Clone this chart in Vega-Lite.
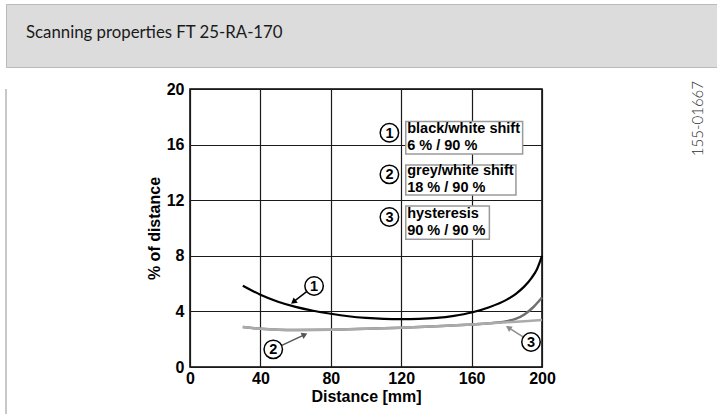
{
  "$schema": "https://vega.github.io/schema/vega-lite/v6.json",
  "background": "white",
  "padding": {"left": 5, "top": 3, "right": 0, "bottom": 0},
  "spacing": 12,
  "config": {"view": {"stroke": null}, "font": "Liberation Sans"},
  "datasets": {
    "curves": [
      {"s": "bw", "x": 30, "y": 5.85}, {"s": "bw", "x": 40, "y": 5.2}, {"s": "bw", "x": 50, "y": 4.7},
      {"s": "bw", "x": 60, "y": 4.33}, {"s": "bw", "x": 70, "y": 4.05}, {"s": "bw", "x": 80, "y": 3.83},
      {"s": "bw", "x": 90, "y": 3.65}, {"s": "bw", "x": 100, "y": 3.53}, {"s": "bw", "x": 110, "y": 3.46},
      {"s": "bw", "x": 120, "y": 3.44}, {"s": "bw", "x": 130, "y": 3.46}, {"s": "bw", "x": 140, "y": 3.53},
      {"s": "bw", "x": 150, "y": 3.68}, {"s": "bw", "x": 160, "y": 3.92}, {"s": "bw", "x": 170, "y": 4.3},
      {"s": "bw", "x": 180, "y": 4.85}, {"s": "bw", "x": 185, "y": 5.25}, {"s": "bw", "x": 190, "y": 5.8},
      {"s": "bw", "x": 194, "y": 6.4}, {"s": "bw", "x": 197, "y": 7.0}, {"s": "bw", "x": 200, "y": 8.0},
      {"s": "gw", "x": 30, "y": 2.88}, {"s": "gw", "x": 40, "y": 2.75}, {"s": "gw", "x": 50, "y": 2.68},
      {"s": "gw", "x": 60, "y": 2.66}, {"s": "gw", "x": 80, "y": 2.68}, {"s": "gw", "x": 100, "y": 2.75},
      {"s": "gw", "x": 120, "y": 2.83}, {"s": "gw", "x": 140, "y": 2.93}, {"s": "gw", "x": 160, "y": 3.06},
      {"s": "gw", "x": 170, "y": 3.14}, {"s": "gw", "x": 175, "y": 3.2}, {"s": "gw", "x": 180, "y": 3.3},
      {"s": "gw", "x": 185, "y": 3.46}, {"s": "gw", "x": 190, "y": 3.78}, {"s": "gw", "x": 195, "y": 4.3},
      {"s": "gw", "x": 200, "y": 5.0},
      {"s": "hys", "x": 30, "y": 2.88}, {"s": "hys", "x": 40, "y": 2.75}, {"s": "hys", "x": 50, "y": 2.68},
      {"s": "hys", "x": 60, "y": 2.66}, {"s": "hys", "x": 80, "y": 2.68}, {"s": "hys", "x": 100, "y": 2.75},
      {"s": "hys", "x": 120, "y": 2.83}, {"s": "hys", "x": 140, "y": 2.93}, {"s": "hys", "x": 160, "y": 3.06},
      {"s": "hys", "x": 180, "y": 3.22}, {"s": "hys", "x": 200, "y": 3.38}
    ],
    "arrows": [
      {"n": "1", "x": 70.5, "y": 5.83, "hx": 58.75, "hy": 4.68},
      {"n": "2", "x": 47.3, "y": 1.27, "hx": 65.16, "hy": 2.33},
      {"n": "3", "x": 193.75, "y": 1.8, "hx": 180.94, "hy": 2.83}
    ],
    "badges": [
      {"n": "1", "x": 70.5, "y": 5.83},
      {"n": "2", "x": 47.3, "y": 1.27},
      {"n": "3", "x": 193.75, "y": 1.8},
      {"n": "1", "x": 113.3, "y": 16.85},
      {"n": "2", "x": 113.3, "y": 13.86},
      {"n": "3", "x": 113.3, "y": 10.79}
    ],
    "legend": [
      {"label": "black/white shift\n6 % / 90 %", "x": 122.6, "x2": 189.0, "y": 15.32, "y2": 17.66, "tx": 123.4, "ty": 17.13},
      {"label": "grey/white shift\n18 % / 90 %", "x": 122.6, "x2": 185.2, "y": 12.37, "y2": 14.53, "tx": 123.4, "ty": 14.12},
      {"label": "hysteresis\n90 % / 90 %", "x": 122.6, "x2": 170.1, "y": 9.19, "y2": 11.58, "tx": 123.4, "ty": 11.01}
    ]
  },
  "vconcat": [
    {
      "width": 712,
      "height": 63,
      "view": {"fill": "#dcdcdc", "stroke": "#bababa", "strokeWidth": 1},
      "title": {
        "text": "Scanning properties FT 25-RA-170",
        "orient": "top", "anchor": "start", "frame": "group",
        "offset": -51, "dx": 20, "baseline": "alphabetic",
        "font": "Lato", "fontSize": 16.8, "fontWeight": "normal", "color": "#1a1a1a"
      },
      "data": {"values": []},
      "mark": "point",
      "encoding": {}
    },
    {
      "spacing": 0,
      "hconcat": [
        {
          "width": 139,
          "height": 336,
          "data": {"values": [{}]},
          "mark": {"type": "rule", "color": "#c8c8c8", "strokeWidth": 2},
          "encoding": {"x": {"datum": 0, "type": "quantitative", "scale": {"domain": [0, 1]}, "axis": null}}
        },
        {
          "width": 352,
          "height": 278,
          "view": {"stroke": "black", "strokeWidth": 1.5},
          "title": {
            "text": "155-01667",
            "orient": "right", "angle": 270, "anchor": "start", "align": "right",
            "offset": 121,
            "font": "Lato", "fontSize": 15, "fontWeight": 300, "color": "#333333"
          },
          "layer": [
            {
              "data": {"name": "curves"},
              "transform": [{"filter": "datum.s === 'gw'"}],
              "mark": {"type": "line", "color": "#707070", "strokeWidth": 2.5, "interpolate": "monotone"},
              "encoding": {
                "x": {"field": "x", "type": "quantitative",
                  "scale": {"domain": [0, 200], "nice": false},
                  "axis": {"values": [0, 40, 80, 120, 160, 200], "grid": true, "gridColor": "#1a1a1a", "gridWidth": 1.2,
                    "ticks": false, "tickSize": 0, "domain": false, "labelFlush": false,
                    "labelFont": "Liberation Sans", "labelFontWeight": "bold", "labelFontSize": 16, "labelColor": "black", "labelPadding": 3,
                    "title": "Distance [mm]", "titleFont": "Liberation Sans", "titleFontWeight": "bold", "titleFontSize": 16, "titleColor": "black", "titlePadding": 2}},
                "y": {"field": "y", "type": "quantitative",
                  "scale": {"domain": [0, 20], "nice": false},
                  "axis": {"values": [0, 4, 8, 12, 16, 20], "grid": true, "gridColor": "#1a1a1a", "gridWidth": 1.2,
                    "ticks": false, "tickSize": 0, "domain": false, "labelFlush": false,
                    "labelFont": "Liberation Sans", "labelFontWeight": "bold", "labelFontSize": 16, "labelColor": "black", "labelPadding": 6,
                    "title": "% of distance", "titleFont": "Liberation Sans", "titleFontWeight": "bold", "titleFontSize": 16, "titleColor": "black", "titlePadding": 4}}
              }
            },
            {
              "data": {"name": "curves"},
              "transform": [{"filter": "datum.s === 'hys'"}],
              "mark": {"type": "line", "color": "#ababab", "strokeWidth": 2.5, "interpolate": "monotone"},
              "encoding": {"x": {"field": "x", "type": "quantitative"}, "y": {"field": "y", "type": "quantitative"}}
            },
            {
              "data": {"name": "curves"},
              "transform": [{"filter": "datum.s === 'bw'"}],
              "mark": {"type": "line", "color": "black", "strokeWidth": 2.2, "interpolate": "monotone"},
              "encoding": {"x": {"field": "x", "type": "quantitative"}, "y": {"field": "y", "type": "quantitative"}}
            },
            {
              "data": {"name": "arrows"},
              "mark": {"type": "rule", "strokeWidth": 1.5},
              "encoding": {
                "x": {"field": "x", "type": "quantitative"}, "y": {"field": "y", "type": "quantitative"},
                "x2": {"field": "hx"}, "y2": {"field": "hy"},
                "color": {"field": "n", "type": "nominal", "scale": {"domain": ["1", "2", "3"], "range": ["black", "#555555", "#8c8c8c"]}, "legend": null}
              }
            },
            {
              "data": {"name": "arrows"},
              "transform": [{"filter": "datum.n === '1'"}],
              "mark": {"type": "point", "shape": "triangle-up", "filled": true, "opacity": 1, "size": 45, "angle": 232.4, "color": "black"},
              "encoding": {"x": {"field": "hx", "type": "quantitative"}, "y": {"field": "hy", "type": "quantitative"}}
            },
            {
              "data": {"name": "arrows"},
              "transform": [{"filter": "datum.n === '2'"}],
              "mark": {"type": "point", "shape": "triangle-up", "filled": true, "opacity": 1, "size": 45, "angle": 64.9, "color": "#555555"},
              "encoding": {"x": {"field": "hx", "type": "quantitative"}, "y": {"field": "hy", "type": "quantitative"}}
            },
            {
              "data": {"name": "arrows"},
              "transform": [{"filter": "datum.n === '3'"}],
              "mark": {"type": "point", "shape": "triangle-up", "filled": true, "opacity": 1, "size": 45, "angle": 302.5, "color": "#8c8c8c"},
              "encoding": {"x": {"field": "hx", "type": "quantitative"}, "y": {"field": "hy", "type": "quantitative"}}
            },
            {
              "data": {"name": "badges"},
              "mark": {"type": "point", "shape": "circle", "filled": true, "fill": "white", "stroke": "black", "strokeWidth": 1.5, "opacity": 1, "size": 340},
              "encoding": {"x": {"field": "x", "type": "quantitative"}, "y": {"field": "y", "type": "quantitative"}}
            },
            {
              "data": {"name": "badges"},
              "mark": {"type": "text", "font": "Liberation Sans", "fontWeight": "bold", "fontSize": 14.5, "align": "center", "baseline": "middle", "dy": 1, "color": "black"},
              "encoding": {"x": {"field": "x", "type": "quantitative"}, "y": {"field": "y", "type": "quantitative"}, "text": {"field": "n"}}
            },
            {
              "data": {"name": "legend"},
              "mark": {"type": "rect", "fill": "white", "stroke": "#9a9a9a", "strokeWidth": 1.5},
              "encoding": {"x": {"field": "x", "type": "quantitative"}, "x2": {"field": "x2"}, "y": {"field": "y", "type": "quantitative"}, "y2": {"field": "y2"}}
            },
            {
              "data": {"name": "legend"},
              "mark": {"type": "text", "font": "Liberation Sans", "fontWeight": "bold", "fontSize": 14.5, "align": "left", "baseline": "middle", "lineBreak": "\n", "lineHeight": 17.5, "color": "black"},
              "encoding": {"x": {"field": "tx", "type": "quantitative"}, "y": {"field": "ty", "type": "quantitative"}, "text": {"field": "label"}}
            }
          ]
        }
      ]
    }
  ]
}
